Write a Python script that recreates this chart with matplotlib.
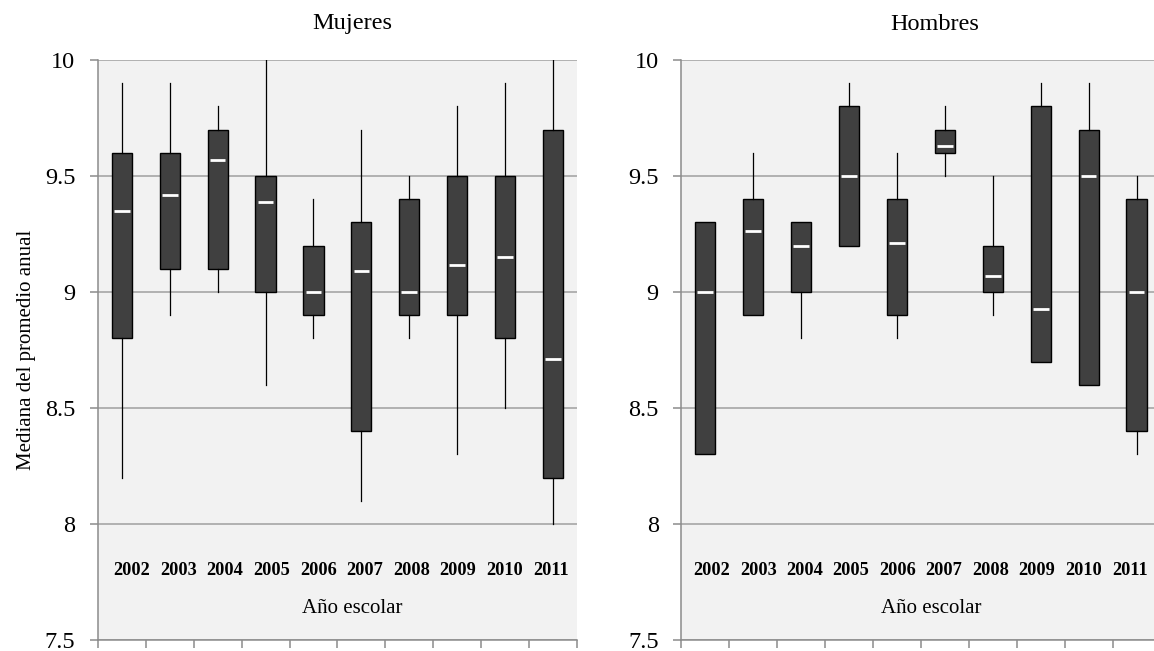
import matplotlib
matplotlib.use("Agg")
import matplotlib.pyplot as plt

years = ["2002", "2003", "2004", "2005", "2006", "2007", "2008", "2009", "2010", "2011"]

# Mujeres: min, q1, median, q3, max
muj_min = [8.2, 8.9, 9.0, 8.6, 8.8, 8.1, 8.8, 8.3, 8.5, 8.0]
muj_q1 = [8.8, 9.1, 9.1, 9.0, 8.9, 8.4, 8.9, 8.9, 8.8, 8.2]
muj_med = [9.35, 9.42, 9.57, 9.39, 9.0, 9.09, 9.0, 9.115, 9.15, 8.71]
muj_q3 = [9.6, 9.6, 9.7, 9.5, 9.2, 9.3, 9.4, 9.5, 9.5, 9.7]
muj_max = [9.9, 9.9, 9.8, 10.0, 9.4, 9.7, 9.5, 9.8, 9.9, 10.0]

# Hombres
hom_min = [8.3, 8.9, 8.8, 9.2, 8.8, 9.5, 8.9, 8.7, 8.6, 8.3]
hom_q1 = [8.3, 8.9, 9.0, 9.2, 8.9, 9.6, 9.0, 8.7, 8.6, 8.4]
hom_med = [9.0, 9.265, 9.2, 9.5, 9.21, 9.63, 9.07, 8.925, 9.5, 9.0]
hom_q3 = [9.3, 9.4, 9.3, 9.8, 9.4, 9.7, 9.2, 9.8, 9.7, 9.4]
hom_max = [9.3, 9.6, 9.3, 9.9, 9.6, 9.8, 9.5, 9.9, 9.9, 9.5]

yticks = [7.5, 8, 8.5, 9, 9.5, 10]
ytick_labels = ["7.5", "8", "8.5", "9", "9.5", "10"]

titles = ["Mujeres", "Hombres"]
ylabel = "Mediana del promedio anual"
xlabel = "Año escolar"

SERIF = ["Liberation Serif", "DejaVu Serif"]
plt.rcParams["font.family"] = SERIF

W, H = 1154, 651
fig = plt.figure(figsize=(W / 100, H / 100), dpi=100)

grid_c = "#a6a6a6"
spine_c = "#8c8c8c"
box_face = "#404040"

panels = [
    (97.7, (muj_min, muj_q1, muj_med, muj_q3, muj_max)),
    (681.0, (hom_min, hom_q1, hom_med, hom_q3, hom_max)),
]

for idx, (left_px, (mn, q1, md, q3, mx)) in enumerate(panels):
    ax = fig.add_axes([left_px / W, (H - 640) / H, 479.5 / W, 580 / H])
    ax.set_facecolor("#f2f2f2")
    n = len(years)
    pos = list(range(1, n + 1))
    stats = []
    for i in range(n):
        stats.append(dict(whislo=mn[i], q1=q1[i], med=md[i], q3=q3[i], whishi=mx[i], fliers=[]))
    ax.bxp(stats, positions=pos, widths=0.42, showcaps=False, showfliers=False,
           patch_artist=True,
           boxprops=dict(facecolor=box_face, edgecolor="black", linewidth=1.0),
           whiskerprops=dict(color="black", linewidth=0.9),
           medianprops=dict(visible=False), zorder=3)
    ax.hlines(md, [p - 0.165 for p in pos], [p + 0.165 for p in pos],
              colors="white", linewidth=2.0, zorder=4)

    ax.set_xlim(0.5, n + 0.5)
    ax.set_ylim(7.5, 10)
    ax.set_yticks(yticks)
    ax.set_yticklabels(ytick_labels, fontsize=17.5)
    ax.set_xticks([p + 0.5 for p in range(0, n + 1)])
    ax.set_xticklabels([])
    ax.tick_params(axis="both", direction="out", length=6, color=spine_c, width=1.1)
    ax.tick_params(axis="y", pad=10)
    ax.yaxis.grid(True, color=grid_c, linewidth=1.2)
    ax.set_axisbelow(True)
    for s in ["top", "right"]:
        ax.spines[s].set_visible(False)
    for s in ["left", "bottom"]:
        ax.spines[s].set_color(spine_c)
        ax.spines[s].set_linewidth(1.1)

    tr = ax.get_yaxis_transform()  # x in axes fraction, y in data
    x0, x1 = (0.071, 0.9457) if idx == 0 else (0.064, 0.936)
    for i, yr in enumerate(years):
        xf = x0 + (x1 - x0) * i / (n - 1)
        ax.text(xf, 7.80, yr, transform=tr, ha="center", va="center",
                fontsize=13.2, fontweight="bold", zorder=5)
    ax.text(0.53 if idx == 0 else 0.521, 7.637, xlabel, transform=tr,
            ha="center", va="center", fontsize=15, zorder=5)
    ax.text(0.53, 1.0 + 36 / 580, titles[idx], transform=ax.transAxes, ha="center",
            va="center", fontsize=17.5)
    if idx == 0:
        fig.text(27 / W, 1 - 350 / H, ylabel, rotation=90, ha="center", va="center", fontsize=15)

fig.savefig("out.png", dpi=100)
